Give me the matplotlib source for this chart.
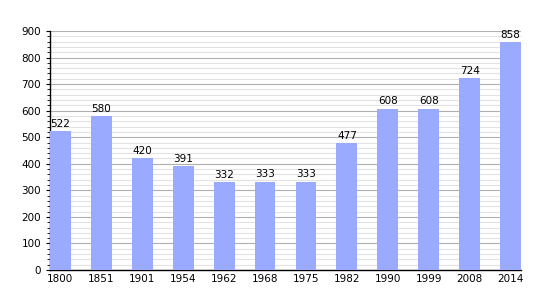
import matplotlib
matplotlib.use("Agg")
import matplotlib.pyplot as plt
import numpy as np
from matplotlib.ticker import MultipleLocator

years = ["1800", "1851", "1901", "1954", "1962", "1968", "1975", "1982",
         "1990", "1999", "2008", "2014"]
population = [522, 580, 420, 391, 332, 333, 333, 477, 608, 608, 724, 858]

fig = plt.figure(figsize=(5.5, 3.0), dpi=100)
ax = fig.add_axes([0.0909, 0.1, 0.8564, 0.7967])

x = np.arange(len(years))
width = 0.51
bars = ax.bar(x, population, width=width, color="#99aaff", zorder=3)

ax.set_xlim(-width / 2, len(years) - 1 + width / 2)
ax.set_ylim(0, 900)
ax.yaxis.set_major_locator(MultipleLocator(100))
ax.yaxis.set_minor_locator(MultipleLocator(20))
ax.grid(axis="y", which="major", color="#b0b0b0", linewidth=0.8, zorder=0)
ax.grid(axis="y", which="minor", color="#e2e2e2", linewidth=0.8, zorder=0)
ax.set_axisbelow(True)

ax.set_xticks(x)
ax.set_xticklabels(years)
ax.tick_params(axis="x", length=0, labelsize=7.5, pad=3)
ax.tick_params(axis="y", which="major", length=3, labelsize=7.5, direction="out")
ax.tick_params(axis="y", which="minor", length=2, direction="out")

for s in ["top", "right"]:
    ax.spines[s].set_visible(False)
for s in ["left", "bottom"]:
    ax.spines[s].set_linewidth(1.0)
    ax.spines[s].set_color("black")

for bar, v in zip(bars, population):
    ax.text(bar.get_x() + bar.get_width() / 2, v + 8, str(v),
            ha="center", va="bottom", fontsize=7.5)

fig.savefig("out.png", dpi=100)
